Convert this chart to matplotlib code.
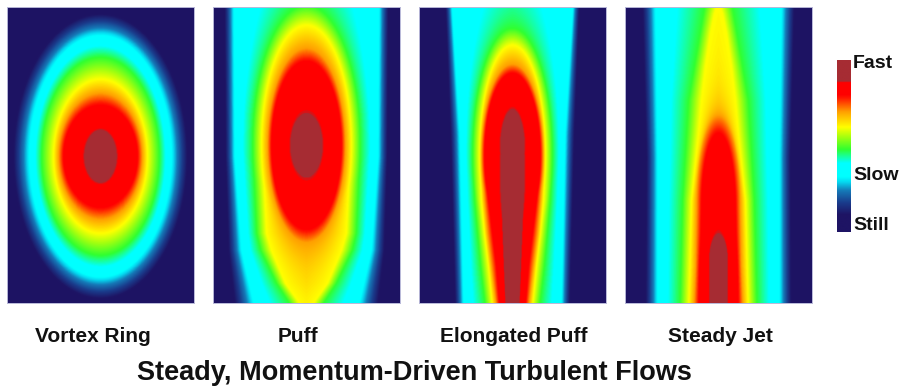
import numpy as np
import matplotlib
matplotlib.use("Agg")
import matplotlib.pyplot as plt
from matplotlib.colors import LinearSegmentedColormap

plt.rcParams["font.family"] = ["Liberation Sans", "DejaVu Sans"]

W, H = 906, 389

# Speed level (fraction of the colour scale) traced by each contour, innermost first:
# core, red, orange, yellow, green, cyan, still
LEVELS = [0.88, 0.80, 0.70, 0.61, 0.48, 0.34, 0.10]

# Vortex ring: nested ellipses about one centre row (px)
ring_centre = 149
ring_half_w = [15, 37, 42, 47, 59, 70, 87]
ring_half_h = [25, 51, 63, 77, 99, 119, 142]

# Puff: elliptical head, a stem reaching the bottom, inside a straight sheath
puff_centre = 138
puff_half_w = [15, 35, 39, 45, 54]
puff_half_h = [29, 84, 97, 120, 140]
puff_stem_rows = [138, 226, 243, 276, 293, 310]
puff_stem_yellow = [44, 40, 35, 21, 9, 0]
puff_stem_green = [54, 50, 46, 30, 19, 8]
puff_sheath_rows = [0, 150, 243, 310]
puff_sheath_cyan = [72, 71, 64, 48]
puff_sheath_still = [82, 81, 78, 70]

# Elongated puff: rounded heads (centre row, half-width, half-height) over tapering stems
elong_head_centre = [140, 148, 148, 148, 148]
elong_head_half_w = [11, 28, 31, 33, 40]
elong_head_half_h = [36, 82, 91, 110, 127]
elong_stem_rows = [148, 193, 226, 259, 310]
elong_stem_core = [11, 10, 9, 8, 6]
elong_stem_red = [28, 24, 20, 16, 12]
elong_stem_orange = [31, 28, 25, 21, 15]
elong_stem_yellow = [33, 31, 28, 24, 19]
elong_stem_green = [40, 38, 35, 32, 26]
elong_sheath_rows = [0, 126, 310]
elong_cyan = [60, 52, 48]
elong_still = [67, 62, 57]

# Steady jet: rounded heads for the fast core, pointed flame for the outer levels
jet_head_centre = [252, 200, 200]
jet_head_half_w = [8.5, 17, 22]
jet_head_half_h = [23, 74, 92]
jet_stem_rows = [200, 226, 259, 310]
jet_stem_core = [8.5, 8.5]
jet_stem_red = [17, 17.5, 19, 20]
jet_stem_orange = [22, 22.5, 23, 25]
jet_yellow_rows = [0, 6, 26, 59, 93, 126, 193, 310]
jet_yellow = [2, 4, 8, 13, 17, 20, 27, 30]
jet_green_rows = [0, 93, 193, 310]
jet_green = [14, 30, 36, 39]
jet_sheath_rows = [0, 150, 310]
jet_cyan = [62, 60, 60]
jet_still = [76, 72, 73]

panel_titles = ["Vortex Ring", "Puff", "Elongated Puff", "Steady Jet"]
panel_left_px = [7.3, 213.3, 419.0, 625.0]
label_centre_px = [92.5, 298, 513.5, 720]
scale_labels = ["Fast", "Slow", "Still"]
scale_label_base_px = [68, 180, 230]
suptitle = "Steady, Momentum-Driven Turbulent Flows"

PANEL_W, PANEL_H = 187.0, 295.4

speed_cmap = LinearSegmentedColormap.from_list("speed", [
    (0.000, "#1e1464"), (0.100, "#1e1464"), (0.170, "#1a3c8c"),
    (0.240, "#157ab8"), (0.290, "#05d8f0"), (0.320, "#00ffff"),
    (0.400, "#00ffff"), (0.440, "#18ff9c"), (0.480, "#30ff30"),
    (0.550, "#a0ff10"), (0.610, "#ffff00"), (0.700, "#ffa000"),
    (0.780, "#ff1800"), (0.800, "#ff0000"), (0.872, "#ff0000"),
    (0.878, "#a62c33"), (1.000, "#a62c33"),
])


def ellipse(cy, hw, hh):
    """Signed radial distance (px) to an ellipse, negative inside."""
    def dist(u, v):
        dv = v - cy
        d = np.hypot(u / hw, dv / hh)
        rho = np.hypot(u, dv)
        radius = np.where(d > 1e-9, rho / np.maximum(d, 1e-9), min(hw, hh))
        return (d - 1.0) * radius
    return dist


def band(rows, half):
    """Signed horizontal distance (px) to a column whose half-width varies by row."""
    rows = np.asarray(rows, float)
    half = np.asarray(half, float)

    def dist(u, v):
        h = np.interp(v, rows, half, left=0.0, right=0.0)
        sd = np.abs(u) - h
        above = v < rows[0]
        below = v > rows[-1]
        sd = np.where(above, np.hypot(np.maximum(np.abs(u) - half[0], 0), rows[0] - v), sd)
        sd = np.where(below, np.hypot(np.maximum(np.abs(u) - half[-1], 0), v - rows[-1]), sd)
        return sd
    return dist


def speed_field(contours, u, v):
    sd = [np.min([shape(u, v) for shape in shapes], axis=0) for shapes in contours]
    val = np.full(u.shape, LEVELS[-1])
    for k in range(len(LEVELS) - 1, 0, -1):
        s_in, s_out = sd[k - 1], sd[k]
        m = (s_out <= 0) & (s_in > 0)
        t = np.clip(s_in / np.maximum(s_in - s_out, 1e-9), 0, 1)
        val = np.where(m, LEVELS[k - 1] + t * (LEVELS[k] - LEVELS[k - 1]), val)
    return np.where(sd[0] <= 0, 0.95, val)


ring = [[ellipse(ring_centre, w, h)] for w, h in zip(ring_half_w, ring_half_h)]

puff = [[ellipse(puff_centre, w, h)] for w, h in zip(puff_half_w, puff_half_h)]
puff[3].append(band(puff_stem_rows, puff_stem_yellow))
puff[4].append(band(puff_stem_rows, puff_stem_green))
puff.append([band(puff_sheath_rows, puff_sheath_cyan)])
puff.append([band(puff_sheath_rows, puff_sheath_still)])

elong_stems = [elong_stem_core, elong_stem_red, elong_stem_orange,
               elong_stem_yellow, elong_stem_green]
elong = [[ellipse(c, w, h), band(elong_stem_rows, s)]
         for c, w, h, s in zip(elong_head_centre, elong_head_half_w,
                               elong_head_half_h, elong_stems)]
elong.append([band(elong_sheath_rows, elong_cyan)])
elong.append([band(elong_sheath_rows, elong_still)])

jet = [
    [ellipse(jet_head_centre[0], jet_head_half_w[0], jet_head_half_h[0]),
     band([252, 310], jet_stem_core)],
    [ellipse(jet_head_centre[1], jet_head_half_w[1], jet_head_half_h[1]),
     band(jet_stem_rows, jet_stem_red)],
    [ellipse(jet_head_centre[2], jet_head_half_w[2], jet_head_half_h[2]),
     band(jet_stem_rows, jet_stem_orange)],
    [band(jet_yellow_rows, jet_yellow)],
    [band(jet_green_rows, jet_green)],
    [band(jet_sheath_rows, jet_cyan)],
    [band(jet_sheath_rows, jet_still)],
]

u = np.linspace(-PANEL_W / 2, PANEL_W / 2, 374)
v = np.linspace(0, PANEL_H, 592)
U, V = np.meshgrid(u, v)

fig = plt.figure(figsize=(W / 100, H / 100), dpi=100)
fig.patch.set_facecolor("white")

for left, contours in zip(panel_left_px, [ring, puff, elong, jet]):
    ax = fig.add_axes([left / W, (H - 7.3 - PANEL_H) / H, PANEL_W / W, PANEL_H / H])
    field = speed_field(contours, U, V)
    ax.imshow(field, cmap=speed_cmap, vmin=0, vmax=1, aspect="auto",
              interpolation="bilinear",
              extent=[-PANEL_W / 2, PANEL_W / 2, PANEL_H, 0])
    ax.set_xticks([])
    ax.set_yticks([])
    for s in ax.spines.values():
        s.set_color("#b8b8d8")
        s.set_linewidth(0.7)

for name, cx in zip(panel_titles, label_centre_px):
    fig.text(cx / W, (H - 342) / H, name, ha="center", va="baseline",
             fontsize=15, fontweight="bold", color="#111111")

fig.text(414 / W, (H - 380) / H, suptitle, ha="center", va="baseline",
         fontsize=19.5, fontweight="bold", color="#111111")

# colour scale
cax = fig.add_axes([836.7 / W, (H - 231.7) / H, 14 / W, 171.7 / H])
cax.imshow(np.linspace(1, 0, 256)[:, None], cmap=speed_cmap, vmin=0, vmax=1,
           aspect="auto", interpolation="bilinear")
cax.axis("off")
for lab, base in zip(scale_labels, scale_label_base_px):
    fig.text(853 / W, (H - base) / H, lab, ha="left", va="baseline",
             fontsize=14, fontweight="bold", color="#111111")

fig.savefig("out.png", dpi=100, facecolor="white")
